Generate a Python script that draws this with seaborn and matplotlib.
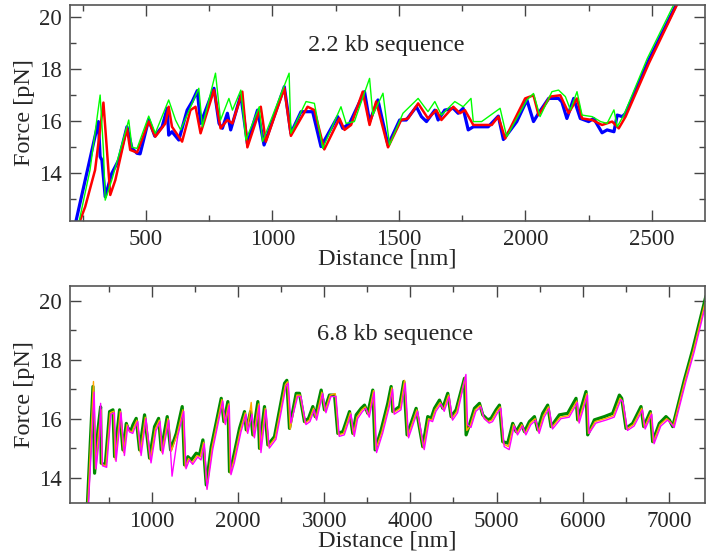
import matplotlib
matplotlib.use("Agg")
import matplotlib.pyplot as plt
from matplotlib.ticker import MultipleLocator
import pandas as pd
import seaborn as sns

# ---- 2.2 kb sequence: three unzipping traces ----
blue_x = [215, 312, 319, 326, 339, 365, 392, 425, 445, 465, 477, 511, 535, 564, 584, 590, 603, 630,
          663, 683, 703, 716, 769, 789, 802, 822, 835, 875, 901, 941, 967, 1047, 1073, 1113, 1159,
          1192, 1258, 1278, 1305, 1364, 1384, 1417, 1457, 1503, 1529, 1569, 1589, 1609, 1642, 1655,
          1681, 1715, 1734, 1754, 1774, 1794, 1853, 1893, 1913, 1966, 2006, 2032, 2052, 2092, 2131,
          2144, 2164, 2191, 2217, 2250, 2270, 2303, 2323, 2350, 2363, 2383, 2396, 2488, 2610]
blue_y = [11.8, 15.99, 14.64, 14.51, 13.1, 14.0, 14.51, 15.79, 14.96, 14.77, 14.75, 16.07, 15.43,
          15.79, 16.5, 15.47, 15.6, 15.28, 16.43, 16.76, 17.18, 15.92, 17.27, 15.92, 15.73, 16.31,
          15.67, 17.01, 15.15, 16.43, 15.09, 17.33, 15.54, 16.37, 16.37, 15.03, 16.18, 15.73, 15.92,
          17.14, 15.99, 16.82, 15.09, 16.05, 16.05, 16.56, 16.18, 15.99, 16.43, 16.05, 16.43, 16.5,
          16.31, 16.5, 15.67, 15.79, 15.79, 16.2, 15.3, 15.99, 16.82, 15.99, 16.31, 16.88, 16.88,
          16.75, 16.11, 16.88, 16.11, 15.99, 16.11, 15.56, 15.67, 15.6, 16.24, 16.18, 16.31, 18.36,
          20.75]

red_x = [225, 260, 299, 332, 339, 359, 379, 425, 438, 465, 511, 537, 577, 590, 603, 643, 676, 696,
         716, 769, 795, 822, 842, 881, 901, 954, 974, 1047, 1073, 1139, 1166, 1205, 1265, 1285, 1311,
         1357, 1384, 1410, 1457, 1509, 1536, 1576, 1615, 1648, 1668, 1715, 1741, 1761, 1794, 1867,
         1893, 1920, 1999, 2032, 2052, 2098, 2138, 2171, 2204, 2224, 2264, 2303, 2343, 2369, 2396,
         2488, 2615]
red_y = [11.8, 12.72, 14.13, 16.72, 15.79, 13.17, 13.74, 15.73, 14.9, 14.8, 15.99, 15.41, 15.92,
         16.56, 15.79, 15.22, 16.43, 16.56, 15.54, 17.2, 15.73, 16.05, 15.92, 17.14, 15.0, 16.56,
         15.22, 17.27, 15.44, 16.56, 16.43, 14.92, 16.11, 15.67, 15.86, 17.14, 15.86, 16.76, 15.0,
         16.05, 16.11, 16.69, 16.11, 16.43, 16.05, 16.56, 16.31, 16.43, 15.86, 15.86, 16.18, 15.34,
         16.88, 17.0, 16.24, 16.95, 17.0, 16.31, 16.88, 16.11, 16.05, 15.86, 15.99, 15.73, 16.18,
         18.23, 20.8]

green_x = [228, 279, 319, 332, 339, 365, 432, 445, 465, 511, 537, 590, 617, 637, 709, 723, 775, 795,
           828, 842, 875, 895, 948, 961, 1066, 1073, 1133, 1166, 1199, 1271, 1291, 1324, 1384, 1397,
           1437, 1463, 1516, 1576, 1615, 1642, 1668, 1721, 1754, 1785, 1794, 1827, 1900, 1926, 2006,
           2032, 2058, 2105, 2131, 2158, 2178, 2204, 2224, 2264, 2297, 2323, 2350, 2363, 2389, 2482,
           2600]
green_y = [11.8, 14.13, 17.01, 14.9, 12.97, 13.74, 16.05, 15.0, 14.96, 16.2, 15.54, 16.82, 16.05,
           15.67, 17.27, 15.79, 17.85, 16.05, 16.88, 16.43, 17.2, 15.28, 16.56, 15.22, 17.85, 15.54,
           16.76, 16.69, 14.96, 16.56, 15.92, 15.99, 17.65, 16.24, 17.08, 15.09, 16.31, 16.88, 16.37,
           16.76, 16.24, 16.76, 16.56, 16.88, 15.99, 15.99, 16.5, 15.41, 16.82, 17.07, 16.18, 17.14,
           17.2, 16.95, 16.44, 17.14, 16.24, 16.18, 15.99, 15.92, 16.44, 15.79, 16.24, 18.42, 20.75]

# ---- 6.8 kb sequence: three unzipping traces ----
g4_x = [250, 316, 335, 374, 405, 412, 459, 509, 548, 567, 625, 664, 703, 722, 761, 780, 818, 857,
        915, 973, 1031, 1078, 1109, 1178, 1217, 1283, 1352, 1379, 1418, 1457, 1515, 1553, 1592, 1631,
        1689, 1805, 1836, 1882, 1901, 1940, 2017, 2075, 2095, 2145, 2172, 2230, 2249, 2307, 2346,
        2423, 2540, 2566, 2597, 2675, 2713, 2771, 2818, 2868, 2895, 2965, 3003, 3061, 3120, 3158,
        3216, 3294, 3332, 3371, 3429, 3468, 3506, 3564, 3591, 3661, 3738, 3777, 3796, 3874, 3924,
        3962, 4067, 4144, 4202, 4241, 4280, 4338, 4376, 4434, 4473, 4531, 4628, 4647, 4686, 4744,
        4802, 4840, 4898, 4937, 4995, 5034, 5072, 5130, 5188, 5227, 5285, 5324, 5382, 5440, 5478,
        5536, 5594, 5633, 5730, 5826, 5923, 5942, 6039, 6058, 6136, 6252, 6348, 6426, 6453, 6503,
        6580, 6677, 6708, 6785, 6812, 6890, 6967, 7006, 7045, 7180, 7276, 7430]
g4_y = [13.0, 17.09, 14.15, 15.62, 16.4, 14.49, 14.43, 16.24, 16.3, 14.71, 16.3, 14.94, 15.84,
        15.67, 15.62, 15.79, 16.01, 14.94, 16.13, 14.66, 15.73, 16.01, 14.94, 16.07, 14.94, 15.5,
        16.41, 14.43, 14.71, 14.6, 14.83, 14.77, 15.28, 13.75, 15.05, 16.69, 15.9, 16.58, 14.2, 14.6,
        15.67, 16.24, 15.62, 16.24, 15.45, 16.58, 14.99, 16.41, 15.11, 15.39, 17.2, 17.3, 15.67,
        16.86, 16.86, 15.9, 16.01, 16.41, 16.07, 16.97, 16.3, 16.8, 16.8, 15.5, 15.56, 16.24, 15.5,
        16.13, 16.35, 16.46, 16.18, 16.97, 14.94, 15.62, 16.52, 17.09, 16.24, 16.41, 17.26, 15.45,
        16.35, 15.05, 16.07, 16.01, 16.35, 16.63, 16.35, 16.86, 16.07, 16.3, 17.37, 15.45, 15.79,
        16.35, 16.52, 16.13, 15.96, 16.01, 16.3, 16.46, 15.22, 15.17, 15.84, 15.56, 15.84, 15.56,
        15.9, 16.07, 15.62, 16.18, 16.46, 15.73, 16.13, 16.18, 16.69, 15.96, 16.92, 15.45, 15.96,
        16.07, 16.18, 16.8, 16.69, 15.67, 15.84, 16.41, 15.73, 16.24, 15.22, 15.84, 16.07, 15.96,
        15.73, 17.31, 18.33, 20.15]

orange_x = [255, 322, 345, 380, 412, 420, 466, 516, 556, 575, 633, 672, 711, 730, 769, 788, 826, 866,
            923, 981, 1039, 1086, 1117, 1186, 1225, 1291, 1360, 1387, 1426, 1465, 1523, 1561, 1600,
            1639, 1697, 1813, 1844, 1890, 1910, 1948, 2025, 2083, 2103, 2153, 2180, 2238, 2257, 2315,
            2354, 2431, 2548, 2574, 2605, 2683, 2721, 2779, 2826, 2876, 2903, 2973, 3011, 3069, 3128,
            3166, 3224, 3302, 3340, 3379, 3437, 3476, 3514, 3572, 3599, 3669, 3746, 3785, 3804, 3882,
            3932, 3970, 4075, 4152, 4210, 4249, 4288, 4346, 4384, 4442, 4481, 4539, 4636, 4655, 4694,
            4752, 4810, 4848, 4906, 4945, 5003, 5042, 5080, 5138, 5196, 5235, 5293, 5332, 5390, 5448,
            5486, 5544, 5602, 5641, 5738, 5834, 5931, 5950, 6047, 6066, 6144, 6260, 6356, 6434, 6461,
            6511, 6588, 6685, 6716, 6793, 6820, 6898, 6975, 7014, 7053, 7188, 7284, 7438]
orange_y = [13.0, 17.26, 14.3, 15.5, 16.3, 14.45, 14.4, 16.2, 16.25, 14.6, 16.25, 14.85, 15.8, 15.6,
            15.55, 15.7, 15.95, 14.85, 16.05, 14.6, 15.65, 15.95, 14.85, 16.0, 14.9, 15.45, 16.3,
            14.35, 14.65, 14.5, 14.75, 14.7, 15.2, 13.65, 15.0, 16.65, 15.85, 16.5, 14.15, 14.55,
            15.6, 16.2, 15.55, 16.55, 15.4, 16.5, 14.95, 16.35, 15.05, 15.35, 17.15, 17.25, 15.65,
            16.8, 16.8, 15.85, 15.95, 16.35, 16.0, 16.9, 16.25, 16.8, 16.85, 15.45, 15.5, 16.2, 15.45,
            16.05, 16.3, 16.4, 16.1, 16.95, 14.95, 15.55, 16.45, 17.05, 16.2, 16.35, 17.3, 15.4, 16.3,
            15.0, 16.0, 15.95, 16.3, 16.55, 16.3, 16.8, 16.0, 16.25, 17.4, 15.6, 15.75, 16.3, 16.45,
            16.05, 15.9, 15.95, 16.25, 16.4, 15.15, 15.05, 15.8, 15.5, 15.8, 15.5, 15.85, 16.0, 15.55,
            16.1, 16.4, 15.7, 16.05, 16.1, 16.6, 15.9, 16.85, 15.5, 15.9, 16.0, 16.1, 16.7, 16.6,
            15.65, 15.8, 16.35, 15.7, 16.2, 15.2, 15.8, 16.0, 15.9, 15.75, 17.3, 18.3, 20.15]

magenta_x = [262, 330, 352, 392, 405, 428, 475, 524, 565, 584, 642, 681, 720, 740, 778, 797, 836,
             875, 932, 990, 1049, 1095, 1126, 1195, 1234, 1300, 1370, 1396, 1435, 1474, 1532, 1570,
             1609, 1640, 1706, 1822, 1853, 1898, 1918, 1957, 2034, 2092, 2112, 2162, 2190, 2247,
             2266, 2324, 2363, 2440, 2557, 2583, 2614, 2692, 2730, 2788, 2835, 2885, 2912, 2982,
             3020, 3078, 3137, 3175, 3233, 3311, 3349, 3388, 3446, 3485, 3523, 3581, 3608, 3678,
             3755, 3794, 3813, 3891, 3941, 3979, 4084, 4161, 4219, 4258, 4297, 4355, 4393, 4451,
             4490, 4548, 4645, 4664, 4703, 4761, 4819, 4857, 4915, 4954, 5012, 5051, 5089, 5147,
             5205, 5244, 5302, 5341, 5399, 5457, 5495, 5553, 5611, 5650, 5747, 5843, 5940, 5959,
             6056, 6075, 6153, 6269, 6365, 6443, 6470, 6520, 6597, 6694, 6725, 6802, 6829, 6907,
             6984, 7023, 7062, 7197, 7293, 7447]
magenta_y = [13.0, 16.9, 14.3, 15.4, 16.52, 14.4, 14.35, 16.15, 16.2, 14.55, 16.2, 14.75, 15.75,
             15.55, 15.5, 15.65, 15.9, 14.75, 16.0, 14.5, 15.6, 15.9, 14.8, 15.95, 14.05, 15.4,
             16.25, 14.3, 14.6, 14.45, 14.7, 14.6, 15.15, 13.6, 14.95, 16.6, 15.8, 16.45, 14.1, 14.5,
             15.55, 16.15, 15.5, 16.15, 15.35, 16.45, 14.85, 16.3, 15.0, 15.3, 17.1, 17.2, 15.85,
             16.75, 16.75, 15.8, 15.9, 16.3, 15.95, 16.85, 16.2, 16.75, 16.75, 15.4, 15.45, 16.15,
             15.4, 16.0, 16.25, 16.35, 16.05, 16.9, 14.85, 15.5, 16.4, 17.0, 16.15, 16.3, 17.2,
             15.35, 16.25, 14.95, 15.95, 15.9, 16.25, 16.5, 16.25, 16.75, 15.95, 16.2, 17.5, 15.8,
             15.7, 16.25, 16.4, 16.0, 15.85, 15.9, 16.2, 16.35, 15.05, 14.95, 15.75, 15.45, 15.75,
             15.45, 15.8, 15.95, 15.5, 16.05, 16.35, 15.65, 16.0, 16.05, 16.55, 15.85, 16.8, 15.5,
             15.85, 15.95, 16.05, 16.65, 16.55, 15.6, 15.75, 16.3, 15.65, 16.15, 15.15, 15.75,
             15.95, 15.85, 15.7, 17.25, 18.25, 20.1]

sns.set_style("ticks")
plt.rcParams["font.family"] = ["Liberation Serif", "DejaVu Serif"]

fig = plt.figure(figsize=(7.06, 5.54), dpi=100)
ax1 = fig.add_axes([0.0992, 0.6011, 0.8994, 0.3899])
ax2 = fig.add_axes([0.0992, 0.0926, 0.8994, 0.3912])

top_traces = [
    (blue_x, blue_y, "#0000ff", 2.3),
    (red_x, red_y, "#ff0000", 1.8),
    (green_x, green_y, "#00ff00", 1.0),
]
bottom_traces = [
    (g4_x, g4_y, "#008b00", 2.3),
    (orange_x, orange_y, "#ffa500", 1.0),
    (magenta_x, magenta_y, "#ff00ff", 1.0),
]

for ax, traces in ((ax1, top_traces), (ax2, bottom_traces)):
    for xs, ys, col, lw in traces:
        df = pd.DataFrame({"d": xs, "f": ys})
        sns.lineplot(data=df, x="d", y="f", ax=ax, color=col, linewidth=lw,
                     sort=False, estimator=None)

ax1.set_xlim(200, 2710)
ax1.set_ylim(12.17, 20.47)
ax1.xaxis.set_major_locator(MultipleLocator(500))
ax1.xaxis.set_minor_locator(MultipleLocator(250))
ax1.text(1140, 18.93, "2.2 kb sequence", fontsize=17.5, va="center", ha="left")

ax2.set_xlim(50, 7420)
ax2.set_ylim(13.15, 20.5)
ax2.xaxis.set_major_locator(MultipleLocator(1000))
ax2.xaxis.set_minor_locator(MultipleLocator(500))
ax2.text(2922, 18.84, "6.8 kb sequence", fontsize=17.5, va="center", ha="left")

for ax in (ax1, ax2):
    ax.yaxis.set_major_locator(MultipleLocator(2))
    ax.yaxis.set_minor_locator(MultipleLocator(1))
    ax.set_xlabel("Distance [nm]", fontsize=17.5, labelpad=-1)
    ax.set_ylabel("Force [pN]", fontsize=17.5, labelpad=3)
    ax.tick_params(which="both", direction="in", top=True, right=True,
                   labelsize=16.5, color="#444444", width=1.0)
    ax.tick_params(which="major", length=8, pad=6)
    ax.tick_params(which="minor", length=4)
    for sp in ax.spines.values():
        sp.set_color("#555555")
        sp.set_linewidth(1.2)

fig.savefig("out.png", dpi=100)
